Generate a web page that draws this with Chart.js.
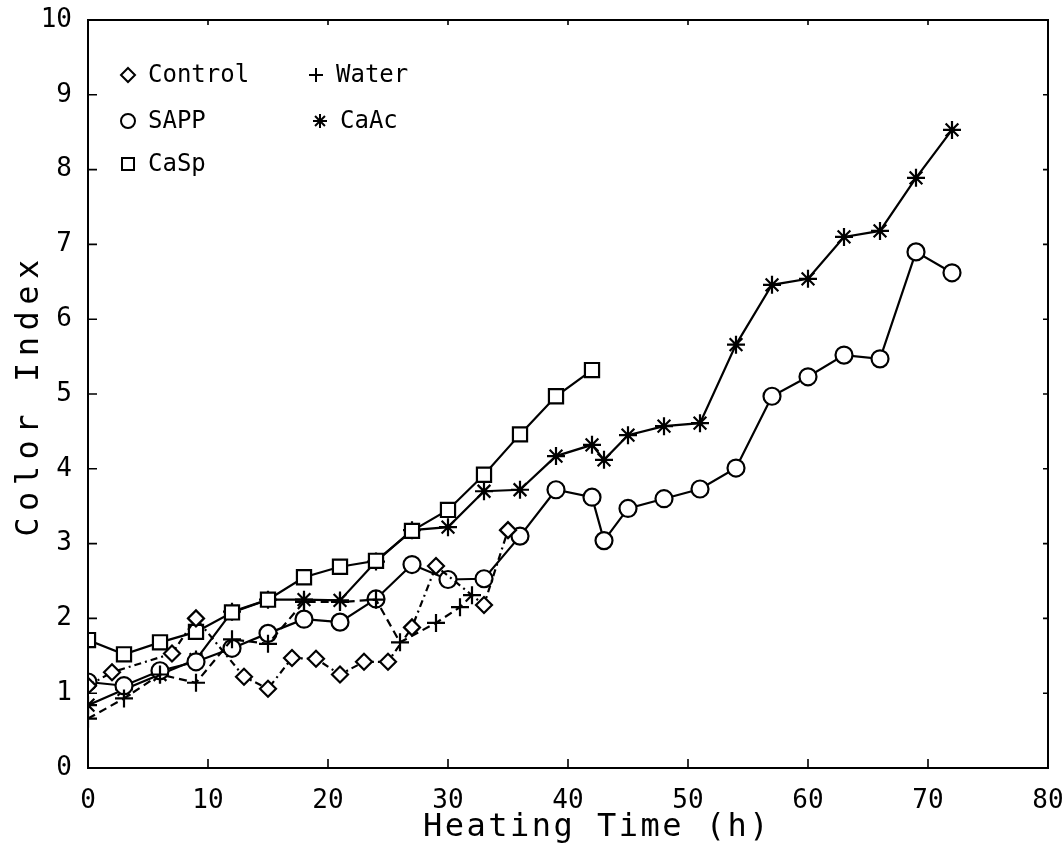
<!DOCTYPE html>
<html>
<head>
<meta charset="utf-8">
<script src="https://cdn.jsdelivr.net/npm/chart.js@4"></script>
<style>
  html, body { margin: 0; padding: 0; background: #fff; }
  #wrap { width: 1064px; height: 845px; }
</style>
</head>
<body>
<div id="wrap"><canvas id="colorChart"></canvas></div>
<script>
// values (heating time in h, colour index)
const controlX = [0, 2, 7, 9, 13, 15, 17, 19, 21, 23, 25, 27, 29, 33, 35];
const controlY = [1.1, 1.28, 1.53, 2.0, 1.22, 1.06, 1.47, 1.46, 1.25, 1.42, 1.42, 1.88, 2.7, 2.18, 3.18];

const waterX = [0, 3, 6, 9, 12, 15, 18, 21, 24, 26, 29, 31, 32];
const waterY = [0.66, 0.93, 1.25, 1.14, 1.72, 1.66, 2.22, 2.22, 2.25, 1.68, 1.94, 2.15, 2.31];

const sappX = [0, 3, 6, 9, 12, 15, 18, 21, 24, 27, 30, 33, 36, 39, 42, 43, 45, 48, 51, 54, 57, 60, 63, 66, 69, 72];
const sappY = [1.15, 1.1, 1.3, 1.42, 1.6, 1.8, 1.99, 1.95, 2.26, 2.72, 2.52, 2.53, 3.1, 3.72, 3.62, 3.04, 3.47, 3.6, 3.73, 4.01, 4.97, 5.23, 5.52, 5.47, 6.9, 6.62];

const caacX = [0, 3, 6, 9, 12, 15, 18, 21, 24, 27, 30, 33, 36, 39, 42, 43, 45, 48, 51, 54, 57, 60, 63, 66, 69, 72];
const caacY = [0.84, 1.05, 1.25, 1.45, 2.09, 2.25, 2.25, 2.24, 2.76, 3.18, 3.22, 3.7, 3.72, 4.17, 4.32, 4.12, 4.45, 4.57, 4.61, 5.66, 6.46, 6.54, 7.1, 7.18, 7.89, 8.53];

const caspX = [0, 3, 6, 9, 12, 15, 18, 21, 24, 27, 30, 33, 36, 39, 42];
const caspY = [1.71, 1.52, 1.68, 1.82, 2.08, 2.25, 2.55, 2.69, 2.77, 3.17, 3.45, 3.92, 4.46, 4.97, 5.32];

const xTicks = [0, 10, 20, 30, 40, 50, 60, 70, 80];
const yTicks = [0, 1, 2, 3, 4, 5, 6, 7, 8, 9, 10];

const FONT = '"DejaVu Sans Mono", "Liberation Mono", monospace';

function pts(xs, ys) {
    return xs.map((x, i) => ({ x: x, y: ys[i] }));
}

function series(label, xs, ys, style, radius, dash) {
    return {
        label: label,
        data: pts(xs, ys),
        borderColor: '#000',
        backgroundColor: '#fff',
        borderWidth: 2.2,
        borderDash: dash || [],
        pointStyle: style,
        pointRadius: radius,
        pointBorderWidth: 2.2,
        pointBorderColor: '#000',
        pointBackgroundColor: '#fff',
        tension: 0,
        fill: false
    };
}

// inward tick marks + box frame
const frame = {
    id: 'frame',
    afterDatasetsDraw(chart) {
        const { ctx, chartArea: a, scales } = chart;
        ctx.save();
        ctx.strokeStyle = '#000';
        ctx.lineWidth = 2;
        ctx.strokeRect(a.left, a.top, a.right - a.left, a.bottom - a.top);
        ctx.lineWidth = 1.6;
        ctx.beginPath();
        yTicks.forEach(v => {
            const y = scales.y.getPixelForValue(v);
            ctx.moveTo(a.left, y); ctx.lineTo(a.left + 9, y);
            ctx.moveTo(a.right, y); ctx.lineTo(a.right - 5, y);
        });
        xTicks.forEach(v => {
            const x = scales.x.getPixelForValue(v);
            ctx.moveTo(x, a.bottom); ctx.lineTo(x, a.bottom - 9);
            ctx.moveTo(x, a.top); ctx.lineTo(x, a.top + 5);
        });
        ctx.stroke();
        ctx.restore();
    }
};

function marker(ctx, kind, x, y) {
    ctx.beginPath();
    if (kind === 'diamond') {
        ctx.moveTo(x, y - 7); ctx.lineTo(x + 7, y); ctx.lineTo(x, y + 7); ctx.lineTo(x - 7, y); ctx.closePath();
        ctx.stroke();
    } else if (kind === 'circle') {
        ctx.arc(x, y, 7, 0, Math.PI * 2);
        ctx.stroke();
    } else if (kind === 'square') {
        ctx.rect(x - 6, y - 6, 12, 12);
        ctx.stroke();
    } else if (kind === 'plus') {
        ctx.moveTo(x - 7, y); ctx.lineTo(x + 7, y);
        ctx.moveTo(x, y - 7); ctx.lineTo(x, y + 7);
        ctx.stroke();
    } else if (kind === 'star') {
        for (let k = 0; k < 4; k++) {
            const t = k * Math.PI / 4;
            ctx.moveTo(x - 7 * Math.cos(t), y - 7 * Math.sin(t));
            ctx.lineTo(x + 7 * Math.cos(t), y + 7 * Math.sin(t));
        }
        ctx.stroke();
    }
}

// legend inside the plot + axis titles
const annotate = {
    id: 'annotate',
    afterDraw(chart) {
        const ctx = chart.ctx;
        ctx.save();
        ctx.strokeStyle = '#000';
        ctx.fillStyle = '#000';
        ctx.lineWidth = 2;
        ctx.font = '24px ' + FONT;
        ctx.textBaseline = 'middle';
        ctx.textAlign = 'left';
        const items = [
            ['diamond', 'Control', 128, 75],
            ['circle', 'SAPP', 128, 121],
            ['square', 'CaSp', 128, 164],
            ['plus', 'Water', 316, 75],
            ['star', 'CaAc', 320, 121]
        ];
        items.forEach(([k, t, x, y]) => {
            marker(ctx, k, x, y);
            ctx.fillText(t, x + 20, y + 1);
        });

        ctx.font = '32px ' + FONT;
        ctx.textAlign = 'center';
        ctx.letterSpacing = '2.5px';
        ctx.fillText('Heating Time (h)', 597, 828);
        ctx.translate(30, 395);
        ctx.rotate(-Math.PI / 2);
        ctx.letterSpacing = '6.5px';
        ctx.fillText('Color Index', 0, 0);
        ctx.restore();
    }
};

new Chart(document.getElementById('colorChart'), {
    type: 'line',
    data: {
        datasets: [
            series('Control', controlX, controlY, 'rectRot', 8, [7, 4, 2, 4]),
            series('Water', waterX, waterY, 'cross', 9, [8, 5]),
            series('CaSp', caspX, caspY, 'rect', 10),
            series('SAPP', sappX, sappY, 'circle', 8.5),
            series('CaAc', caacX, caacY, 'star', 9)
        ]
    },
    options: {
        responsive: true,
        maintainAspectRatio: false,
        animation: false,
        layout: { padding: { left: 0, right: 0, top: 20, bottom: 0 } },
        plugins: {
            legend: { display: false },
            tooltip: { enabled: false }
        },
        scales: {
            x: {
                type: 'linear',
                min: 0,
                max: 80,
                afterBuildTicks: s => { s.ticks = xTicks.map(v => ({ value: v })); },
                afterFit: s => { s.height = 77; s.paddingRight = 16; s.paddingLeft = 0; },
                grid: { display: false },
                border: { display: false },
                ticks: { color: '#000', padding: 10, font: { family: FONT, size: 26 }, maxRotation: 0 }
            },
            y: {
                min: 0,
                max: 10,
                afterBuildTicks: s => { s.ticks = yTicks.map(v => ({ value: v })); },
                afterFit: s => { s.width = 88; s.paddingTop = 0; s.paddingBottom = 0; },
                grid: { display: false },
                border: { display: false },
                ticks: { color: '#000', padding: 8, font: { family: FONT, size: 26 } }
            }
        }
    },
    plugins: [frame, annotate]
});
</script>
</body>
</html>
